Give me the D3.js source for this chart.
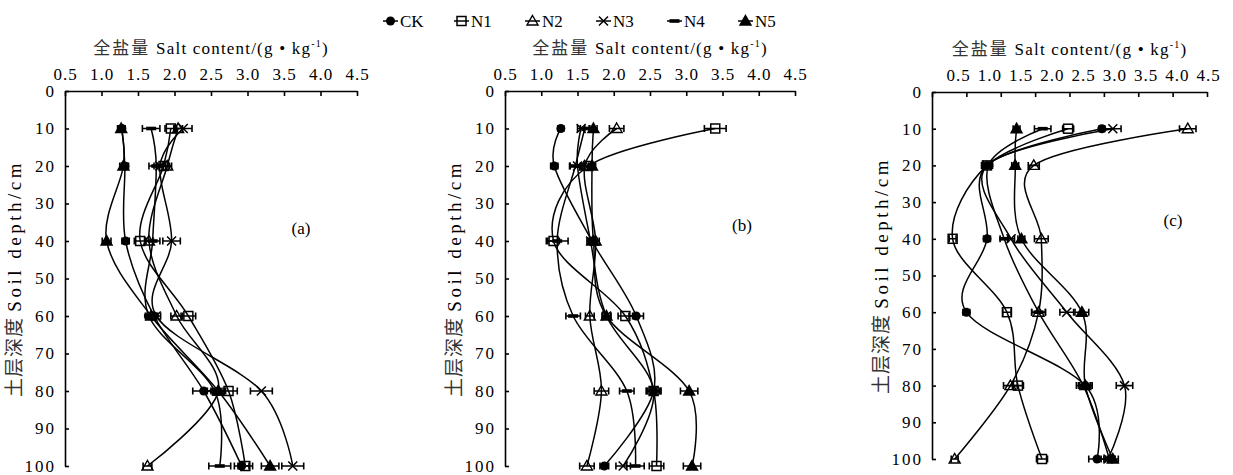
<!DOCTYPE html>
<html>
<head>
<meta charset="utf-8">
<script src="https://cdn.jsdelivr.net/npm/d3@7"></script>
<style>
  body { margin: 0; background: #fff; }
  svg text { font-family: "Liberation Serif", "Times New Roman", "Noto Sans CJK SC", serif; fill: #000; }
  .axis path, .axis line { stroke: #000; stroke-width: 1.6; }
  .axis text { font-size: 17px; font-family: "Liberation Serif", serif; }
  .serie { fill: none; stroke: #000; stroke-width: 1.5; }
  .err { stroke: #000; stroke-width: 1.6; }
</style>
</head>
<body>
<div id="chart"></div>
<script>
// soil salt profile, 3 panels, 6 treatments

var seriesNames = ["CK", "N1", "N2", "N3", "N4", "N5"];
var depths = [10, 20, 40, 60, 80, 100];
var xTicks = [0.5, 1.0, 1.5, 2.0, 2.5, 3.0, 3.5, 4.0, 4.5];
var yTicks = [0, 10, 20, 30, 40, 50, 60, 70, 80, 90, 100];
var panelNames = ["(a)", "(b)", "(c)"];

// salt content g/kg, one row per series (CK..N5), one column per depth
var saltA = [
  [1.28, 1.32, 1.33, 1.72, 2.40, 2.92],
  [1.95, 1.85, 1.53, 2.19, 2.74, 2.97],
  [2.05, 1.90, 1.65, 2.03, 2.60, 1.63],
  [2.12, 1.80, 1.96, 1.75, 3.19, 3.62],
  [1.68, 1.75, 1.70, 1.65, 2.55, 2.62],
  [1.27, 1.30, 1.07, 1.68, 2.60, 3.31]
];
var saltB = [
  [1.27, 1.18, 1.70, 2.31, 2.55, 1.87],
  [3.40, 1.65, 1.17, 2.16, 2.55, 2.59],
  [2.04, 1.60, 1.75, 1.67, 1.83, 1.63],
  [1.55, 1.50, 1.68, 1.90, 2.55, 2.13],
  [1.60, 1.47, 1.22, 1.44, 2.18, 2.30],
  [1.72, 1.70, 1.72, 1.90, 3.04, 3.08]
];
var saltC = [
  [2.97, 1.30, 1.30, 1.00, 2.73, 2.90],
  [2.48, 1.30, 0.80, 1.59, 1.75, 2.10],
  [4.22, 1.98, 2.09, 2.05, 1.64, 0.83],
  [3.13, 1.30, 1.65, 2.46, 3.30, 3.06],
  [2.11, 1.32, 1.55, 2.05, 2.70, 3.08],
  [1.73, 1.71, 1.80, 2.68, 2.73, 3.13]
];
// error bar half widths
var errA = [
  [0.04, 0.05, 0.05, 0.05, 0.15, 0.10],
  [0.08, 0.08, 0.08, 0.10, 0.12, 0.10],
  [0.06, 0.06, 0.06, 0.08, 0.10, 0.06],
  [0.12, 0.08, 0.12, 0.06, 0.15, 0.15],
  [0.12, 0.10, 0.10, 0.05, 0.10, 0.15],
  [0.05, 0.05, 0.06, 0.06, 0.08, 0.12]
];
var errB = [
  [0.04, 0.05, 0.05, 0.10, 0.10, 0.06],
  [0.15, 0.08, 0.08, 0.10, 0.10, 0.10],
  [0.10, 0.06, 0.05, 0.06, 0.10, 0.10],
  [0.05, 0.10, 0.05, 0.06, 0.08, 0.10],
  [0.06, 0.08, 0.15, 0.10, 0.10, 0.12],
  [0.05, 0.05, 0.05, 0.06, 0.12, 0.12]
];
var errC = [
  [0.04, 0.05, 0.05, 0.05, 0.10, 0.12],
  [0.08, 0.08, 0.05, 0.06, 0.08, 0.08],
  [0.12, 0.08, 0.10, 0.10, 0.10, 0.05],
  [0.12, 0.05, 0.05, 0.10, 0.12, 0.10],
  [0.12, 0.05, 0.06, 0.10, 0.10, 0.08],
  [0.05, 0.05, 0.05, 0.10, 0.08, 0.08]
];

var W = 1233, H = 475;
var svg = d3.select("#chart").append("svg").attr("width", W).attr("height", H);

// lab = where the tick labels sit (panel c labels are squeezed in the original)
var panels = [
  {data: saltA, err: errA, x0: 65, x1: 357, y0: 91, y1: 466, lab: [65, 357], label: [301, 230]},
  {data: saltB, err: errB, x0: 505, x1: 795, y0: 91, y1: 466, lab: [505, 795], label: [742, 227]},
  {data: saltC, err: errC, x0: 932, x1: 1207, y0: 92, y1: 459, lab: [958, 1208], label: [1173, 222]}
];

function drawMarker(g, name, cx, cy) {
  if (name == "CK") {
    g.append("circle").attr("cx", cx).attr("cy", cy).attr("r", 4.5).attr("fill", "#000");
  } else if (name == "N1") {
    g.append("rect").attr("x", cx - 4.5).attr("y", cy - 4.5).attr("width", 9).attr("height", 9)
      .attr("fill", "none").attr("stroke", "#000").attr("stroke-width", 1.5);
  } else if (name == "N2" || name == "N5") {
    g.append("path").attr("d", "M" + cx + "," + (cy - 5.5) + "L" + (cx + 5.5) + "," + (cy + 4) + "L" + (cx - 5.5) + "," + (cy + 4) + "Z")
      .attr("fill", name == "N5" ? "#000" : "none").attr("stroke", "#000").attr("stroke-width", 1.4);
  } else if (name == "N3") {
    g.append("path").attr("d", "M" + (cx - 4.5) + "," + (cy - 4.5) + "L" + (cx + 4.5) + "," + (cy + 4.5) + "M" + (cx + 4.5) + "," + (cy - 4.5) + "L" + (cx - 4.5) + "," + (cy + 4.5))
      .attr("stroke", "#000").attr("stroke-width", 1.5);
  } else {
    g.append("rect").attr("x", cx - 5).attr("y", cy - 1.8).attr("width", 10).attr("height", 3.6).attr("fill", "#000");
  }
}

panels.forEach(function(p, pi) {
  var x = d3.scaleLinear().domain([0.5, 4.5]).range([p.x0, p.x1]);
  var xLab = d3.scaleLinear().domain([0.5, 4.5]).range(p.lab);
  var y = d3.scaleLinear().domain([0, 100]).range([p.y0, p.y1]);
  var g = svg.append("g");

  // x axis on top: ticks from x, labels from xLab
  g.append("g").attr("class", "axis").attr("transform", "translate(0," + p.y0 + ")")
    .call(d3.axisTop(x).tickValues(xTicks).tickFormat("").tickSizeInner(-5).tickSizeOuter(0));
  var xl = g.append("g").attr("class", "axis").attr("transform", "translate(0," + p.y0 + ")")
    .call(d3.axisTop(xLab).tickValues(xTicks).tickFormat(d3.format(".1f")).tickSize(0).tickPadding(11));
  xl.select(".domain").remove();
  xl.selectAll("text").attr("letter-spacing", "1px");

  var ya = g.append("g").attr("class", "axis").attr("transform", "translate(" + p.x0 + ",0)")
    .call(d3.axisLeft(y).tickValues(yTicks).tickSizeInner(-4).tickSizeOuter(0).tickPadding(9));
  ya.selectAll("text").attr("font-size", "18px").attr("letter-spacing", "2px");

  // titles
  var xt = g.append("text").attr("x", (p.x0 + p.x1) / 2).attr("y", p.y0 - 37)
    .attr("text-anchor", "middle").attr("font-size", "17px").attr("letter-spacing", "1.2px");
  xt.append("tspan").attr("font-family", "Noto Sans CJK SC").attr("fill", "#333").attr("letter-spacing", "2px").text("全盐量 ");
  xt.append("tspan").text("Salt content/(g • kg");
  xt.append("tspan").attr("font-size", "10px").attr("dy", "-7").text("-1");
  xt.append("tspan").attr("dy", "7").text(")");

  var yt = g.append("text").attr("transform", "translate(" + (p.x0 - 44) + "," + ((p.y0 + p.y1) / 2) + ") rotate(-90)")
    .attr("text-anchor", "middle").attr("font-size", "19px");
  yt.append("tspan").attr("font-family", "Noto Sans CJK SC").attr("fill", "#333").attr("letter-spacing", "1px").text("土层深度 ");
  yt.append("tspan").attr("letter-spacing", "3.5px").text("Soil depth/cm");

  g.append("text").attr("x", p.label[0]).attr("y", p.label[1]).attr("text-anchor", "middle")
    .attr("dominant-baseline", "middle").attr("font-size", "17px").text(panelNames[pi]);

  var line = d3.line()
    .x(function(d) { return x(d[0]); })
    .y(function(d) { return y(d[1]); })
    .curve(d3.curveCardinal.tension(0));

  p.data.forEach(function(vals, si) {
    var pts = vals.map(function(v, i) { return [v, depths[i]]; });
    g.append("path").attr("class", "serie").attr("d", line(pts));
  });

  p.data.forEach(function(vals, si) {
    vals.forEach(function(v, i) {
      var e = p.err[si][i], cy = y(depths[i]);
      var xl = x(v - e), xr = x(v + e);
      g.append("path").attr("class", "err")
        .attr("d", "M" + xl + "," + cy + "H" + xr + "M" + xl + "," + (cy - 3.5) + "V" + (cy + 3.5) + "M" + xr + "," + (cy - 3.5) + "V" + (cy + 3.5));
    });
  });

  p.data.forEach(function(vals, si) {
    vals.forEach(function(v, i) {
      drawMarker(g, seriesNames[si], x(v), y(depths[i]));
    });
  });
});

// legend
var lx = d3.scalePoint().domain(seriesNames).range([383, 738]);
var leg = svg.append("g").attr("transform", "translate(0,21)");
seriesNames.forEach(function(n) {
  var x0 = lx(n);
  leg.append("line").attr("x1", x0).attr("x2", x0 + 15).attr("y1", 0).attr("y2", 0).attr("stroke", "#000").attr("stroke-width", 1.5);
  drawMarker(leg, n, x0 + 7.5, 0);
  leg.append("text").attr("x", x0 + 17).attr("y", 6).attr("font-size", "17px").text(n);
});
</script>
</body>
</html>
